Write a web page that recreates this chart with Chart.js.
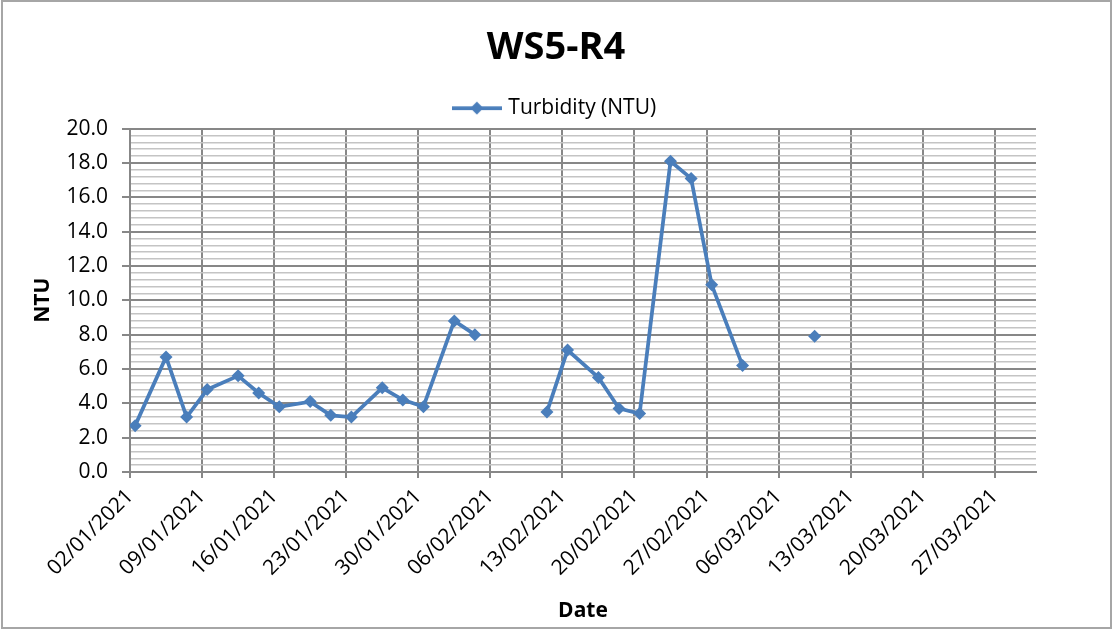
<!DOCTYPE html>
<html>
<head>
<meta charset="utf-8">
<title>WS5-R4</title>
<script src="https://cdn.jsdelivr.net/npm/chart.js@4/dist/chart.umd.min.js"></script>
<style>
  html, body { margin: 0; padding: 0; background: #fff; }
  #wrap { width: 1112px; height: 630px; }
</style>
</head>
<body>
<div id="wrap"><canvas id="ws5"></canvas></div>
<script>
// sampling dates (dd/mm/yyyy) and turbidity readings, null = no reading that day
const sampleDates = [
  '02/01/2021', '05/01/2021', '07/01/2021', '09/01/2021', '12/01/2021', '14/01/2021',
  '16/01/2021', '19/01/2021', '21/01/2021', '23/01/2021', '26/01/2021', '28/01/2021',
  '30/01/2021', '02/02/2021', '04/02/2021', '06/02/2021', '09/02/2021', '11/02/2021',
  '13/02/2021', '16/02/2021', '18/02/2021', '20/02/2021', '23/02/2021', '25/02/2021',
  '27/02/2021', '02/03/2021', '04/03/2021', '06/03/2021', '09/03/2021'
];
const turbidity = [
  2.7, 6.7, 3.2, 4.8, 5.6, 4.6,
  3.8, 4.1, 3.3, 3.2, 4.9, 4.2,
  3.8, 8.8, 8.0, null, null, 3.5,
  7.1, 5.5, 3.7, 3.4, 18.1, 17.1,
  10.9, 6.2, null, null, 7.9
];
const weekTicks = [
  '02/01/2021', '09/01/2021', '16/01/2021', '23/01/2021', '30/01/2021', '06/02/2021',
  '13/02/2021', '20/02/2021', '27/02/2021', '06/03/2021', '13/03/2021', '20/03/2021',
  '27/03/2021'
];
const axisStart = '02/01/2021';
const axisEnd = '31/03/2021';
const yMax = 20;
const yMajor = 2;
const yMinor = 0.4;

const blue = '#4A7EBB';
const gridDark = '#878787';
const gridLight = '#c4c4c4';

// days since axisStart
function dayNo(s) {
  const [d, m, y] = s.split('/').map(Number);
  const [d0, m0, y0] = axisStart.split('/').map(Number);
  return Math.round((Date.UTC(y, m - 1, d) - Date.UTC(y0, m0 - 1, d0)) / 864e5);
}

// each day is a slot, the reading sits in the middle of it
const points = sampleDates.map((d, i) => ({ x: dayNo(d) + 0.5, y: turbidity[i] }));

function isMajor(v) {
  return Math.abs(v / yMajor - Math.round(v / yMajor)) < 1e-6;
}

// legend key: line with a diamond
const key = document.createElement('canvas');
key.width = 50; key.height = 14;
const k = key.getContext('2d');
k.strokeStyle = blue; k.lineWidth = 3.75;
k.beginPath(); k.moveTo(0, 7); k.lineTo(50, 7); k.stroke();
k.fillStyle = blue;
k.beginPath(); k.moveTo(25, 0.5); k.lineTo(31.5, 7); k.lineTo(25, 13.5); k.lineTo(18.5, 7); k.closePath(); k.fill();

// white background and grey frame round the chart
const frame = {
  id: 'frame',
  beforeDraw(chart) {
    const c = chart.ctx;
    c.save();
    c.fillStyle = '#fff';
    c.fillRect(0, 0, chart.width, chart.height);
    c.strokeStyle = '#a6a6a6';
    c.lineWidth = 2;
    c.strokeRect(2, 1, chart.width - 3, chart.height - 3);
    c.restore();
  }
};

Chart.defaults.font.family = "'Open Sans', sans-serif";
Chart.defaults.color = '#000';

new Chart(document.getElementById('ws5'), {
  type: 'line',
  data: {
    datasets: [{
      label: 'Turbidity (NTU)',
      data: points,
      borderColor: blue,
      backgroundColor: blue,
      borderWidth: 3.75,
      pointStyle: 'rectRot',
      pointRadius: 6.5,
      pointBorderWidth: 0,
      pointBackgroundColor: blue,
      spanGaps: false,
      tension: 0
    }]
  },
  options: {
    responsive: true,
    maintainAspectRatio: false,
    animation: false,
    layout: { padding: { left: 0, right: 0, top: 0, bottom: 4 } },
    plugins: {
      title: {
        display: true,
        text: 'WS5-R4',
        font: { size: 38, weight: 'bold' },
        color: '#000',
        padding: { top: 25, bottom: 18 }
      },
      legend: {
        display: true,
        labels: {
          usePointStyle: true,
          pointStyleWidth: 42,
          padding: 9,
          font: { size: 21 },
          color: '#000',
          generateLabels: () => [{
            text: 'Turbidity (NTU)',
            pointStyle: key,
            fillStyle: blue,
            strokeStyle: blue,
            lineWidth: 0,
            hidden: false,
            datasetIndex: 0
          }]
        }
      },
      tooltip: { enabled: false }
    },
    scales: {
      x: {
        type: 'linear',
        min: dayNo(axisStart),
        max: dayNo(axisEnd),
        afterBuildTicks: s => { s.ticks = weekTicks.map(t => ({ value: dayNo(t) })); },
        afterFit: s => { s.height = 154; s.paddingRight = 76; },
        ticks: {
          autoSkip: false,
          minRotation: 45,
          maxRotation: 45,
          padding: 6,
          font: { size: 21 },
          color: '#000',
          callback: v => weekTicks.find(t => dayNo(t) === v) || ''
        },
        grid: { color: gridDark, lineWidth: 2, tickLength: 6 },
        border: { color: gridDark, width: 2 },
        title: {
          display: true,
          text: 'Date',
          font: { size: 21, weight: 'bold' },
          color: '#000',
          padding: 2
        }
      },
      y: {
        min: 0,
        max: yMax,
        afterBuildTicks: s => {
          const t = [];
          for (let i = 0; i * yMinor <= yMax + 1e-9; i++) t.push({ value: Math.round(i * yMinor * 10) / 10 });
          s.ticks = t;
        },
        afterFit: s => { s.width = 130; },
        ticks: {
          autoSkip: false,
          padding: 14,
          font: { size: 21 },
          color: '#000',
          callback: v => isMajor(v) ? v.toFixed(1) : ''
        },
        grid: {
          color: c => (!c.tick || isMajor(c.tick.value)) ? gridDark : gridLight,
          lineWidth: c => (!c.tick || isMajor(c.tick.value)) ? 2 : 1.5,
          tickColor: c => (!c.tick || isMajor(c.tick.value)) ? gridDark : 'rgba(0,0,0,0)',
          tickLength: 8
        },
        border: { color: gridDark, width: 2 },
        title: {
          display: true,
          text: 'NTU',
          font: { size: 21, weight: 'bold' },
          color: '#000',
          padding: 30
        }
      }
    }
  },
  plugins: [frame]
});
</script>
</body>
</html>
